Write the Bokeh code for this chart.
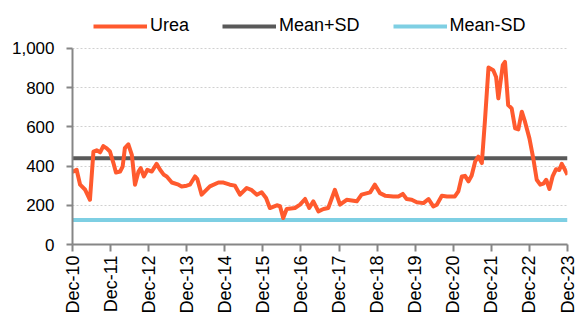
from bokeh.plotting import figure
from bokeh.models import Range1d, FixedTicker, NumeralTickFormatter, Legend, LegendItem
from bokeh.embed import file_html
from bokeh.resources import INLINE
import math

# months since Dec-2010
months = [0, 1.3, 2.4, 4.0, 5.5, 6.6, 7.6, 8.7, 9.7, 10.8, 11.8, 12.9, 13.7, 15.0, 15.8, 16.5,
          17.6, 18.7, 19.7, 20.8, 21.5, 22.5, 23.6, 25.0, 26.5, 27.6, 28.8, 29.7, 31.3, 33.4,
          34.4, 36.0, 37.0, 38.6, 39.3, 40.7, 43.3, 46.0, 47.6, 49.6, 51.2, 52.8, 54.9, 56.5,
          58.1, 59.6, 61.0, 62.2, 64.4, 65.4, 66.4, 67.5, 70.1, 71.7, 73.3, 74.6, 75.9, 77.5,
          79.1, 80.6, 82.7, 84.3, 86.4, 89.6, 91.1, 93.8, 95.3, 96.9, 98.5, 101.1, 102.7,
          104.1, 105.3, 106.9, 108.5, 110.6, 112.2, 113.7, 114.8, 116.4, 118.0, 120.5, 121.6,
          122.7, 123.7, 124.8, 125.8, 126.9, 127.9, 129.0, 130.0, 131.1, 132.6, 133.5, 134.2,
          134.7, 135.6, 136.3, 137.3, 138.4, 139.5, 140.5, 141.6, 142.6, 144.0, 145.3, 146.3,
          147.4, 148.4, 149.3, 150.3, 151.3, 152.4, 153.4, 154.2, 155.2, 156.0]
urea = [370, 381, 305, 279, 228, 474, 480, 470, 502, 490, 474, 415, 367, 372, 397, 491,
        511, 457, 305, 372, 389, 347, 381, 372, 411, 381, 355, 347, 316, 305,
        296, 300, 305, 347, 335, 254, 296, 316, 316, 305, 300, 254, 288, 277,
        254, 266, 237, 186, 200, 195, 135, 181, 186, 203, 232, 186, 220, 169,
        181, 186, 279, 203, 228, 220, 254, 266, 305, 262, 249, 245, 245,
        258, 232, 228, 215, 211, 232, 194, 203, 249, 245, 245, 271,
        347, 350, 322, 352, 423, 448, 415, 635, 902, 888, 854, 745,
        805, 914, 931, 711, 694, 592, 587, 677, 626, 541, 431, 330,
        305, 310, 330, 283, 347, 384, 380, 411, 381, 355]
mean_plus_sd = 440
mean_minus_sd = 125

tick_months = [0, 12, 24, 36, 48, 60, 72, 84, 96, 108, 120, 132, 144, 156]
tick_labels = ["Dec-10", "Dec-11", "Dec-12", "Dec-13", "Dec-14", "Dec-15", "Dec-16",
               "Dec-17", "Dec-18", "Dec-19", "Dec-20", "Dec-21", "Dec-22", "Dec-23"]
y_ticks = [0, 200, 400, 600, 800, 1000]

FONT = "Liberation Sans"
AXIS_COL = "#868686"

# frame extends above the 1,000 line to leave room for the legend
p = figure(width=577, height=316, output_backend="svg", toolbar_location=None,
           x_range=Range1d(tick_months[0], tick_months[-1]),
           y_range=Range1d(0, 1244))
p.min_border_left = 72
p.min_border_right = 10
p.min_border_top = 0
p.min_border_bottom = 71
p.outline_line_color = None

span = [months[0], months[-1]]
r_up = p.line(span, [mean_plus_sd] * 2, line_color="#595959", line_width=4)
r_dn = p.line(span, [mean_minus_sd] * 2, line_color="#7ECFE3", line_width=4)
r_urea = p.line(months, urea, line_color="#FF5A2E", line_width=4, line_join="round")

# axes
p.xaxis.ticker = FixedTicker(ticks=tick_months)
p.xaxis.major_label_overrides = {m: l for m, l in zip(tick_months, tick_labels)}
p.xaxis.major_label_orientation = math.pi / 2
p.yaxis.ticker = FixedTicker(ticks=y_ticks)
p.yaxis.formatter = NumeralTickFormatter(format="0,0")
p.yaxis.bounds = (y_ticks[0], y_ticks[-1])
for ax in (p.xaxis, p.yaxis):
    ax.axis_line_color = AXIS_COL
    ax.axis_line_width = 2
    ax.major_tick_line_color = AXIS_COL
    ax.major_tick_line_width = 2
    ax.major_tick_in = 0
    ax.minor_tick_line_color = None
    ax.major_label_text_font = FONT
    ax.major_label_text_color = "#000000"
p.xaxis.major_label_text_font_size = "18px"
p.yaxis.major_label_text_font_size = "17px"
p.xaxis.major_tick_out = 7
p.xaxis.major_label_standoff = 4
p.yaxis.major_tick_out = 6
p.yaxis.major_label_standoff = 12

p.xgrid.grid_line_color = None
p.ygrid.ticker = FixedTicker(ticks=y_ticks)
p.ygrid.grid_line_color = "#d0d0d0"
p.ygrid.grid_line_dash = "2 2"
p.ygrid.grid_line_width = 1

legend = Legend(items=[LegendItem(label="Urea", renderers=[r_urea]),
                       LegendItem(label="Mean+SD", renderers=[r_up]),
                       LegendItem(label="Mean-SD", renderers=[r_dn])],
                orientation="horizontal", location=(21, 208))
legend.glyph_width = 54
legend.glyph_height = 20
legend.label_standoff = 3
legend.spacing = 33
legend.padding = 2
legend.margin = 0
legend.border_line_color = None
legend.background_fill_alpha = 0
legend.label_text_font = FONT
legend.label_text_font_size = "18px"
legend.label_text_color = "#000000"
p.add_layout(legend, "center")

open("out.html", "w").write(file_html(p, INLINE))
